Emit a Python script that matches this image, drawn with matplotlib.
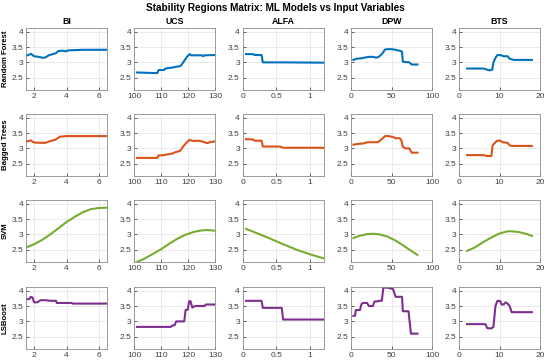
"""Stability regions matrix: partial-dependence style curves per model and input."""

import matplotlib

matplotlib.use("Agg")
import matplotlib.pyplot as plt

plt.rcParams["font.family"] = ["Liberation Sans", "DejaVu Sans"]

TITLE = "Stability Regions Matrix: ML Models vs Input Variables"
VARIABLES = ["BI", "UCS", "ALFA", "DPW", "BTS"]
MODELS = ["Random Forest", "Bagged Trees", "SVM", "LSBoost"]
MODEL_COLORS = ["#0072BD", "#D95319", "#77AC30", "#7E2F8E"]

XLIMS = [(1.5, 6.5), (100, 130), (0, 1.2), (0, 100), (0, 20)]
XTICKS = [[2, 4, 6], [100, 110, 120, 130], [0, 0.5, 1], [0, 50, 100], [0, 10, 20]]
XTICKLABELS = [["2", "4", "6"], ["100", "110", "120", "130"], ["0", "0.5", "1"],
               ["0", "50", "100"], ["0", "10", "20"]]
YLIM = (2.1, 4.12)
YTICKS = [2.5, 3, 3.5, 4]
YTICKLABELS = ["2.5", "3", "3.5", "4"]

# Random Forest
rf_bi = ([1.5, 1.65, 1.8, 1.9, 2.0, 2.3, 2.5, 2.7, 2.9, 3.1, 3.35, 3.5, 3.75, 3.95, 4.1, 4.5, 5.0, 6.5],
         [3.22, 3.24, 3.28, 3.24, 3.2, 3.18, 3.15, 3.16, 3.23, 3.26, 3.3, 3.37, 3.38, 3.36, 3.39, 3.4, 3.41, 3.41])
rf_ucs = ([101, 105, 108.5, 109, 111, 111.5, 114, 117, 117.5, 118.5, 119.5, 120.5, 121, 125, 125.5, 126, 130],
          [2.67, 2.66, 2.65, 2.75, 2.75, 2.8, 2.83, 2.88, 2.92, 3.05, 3.18, 3.27, 3.23, 3.23, 3.2, 3.23, 3.24])
rf_alfa = ([0.05, 0.15, 0.18, 0.28, 0.3, 0.6, 1.2],
           [3.27, 3.27, 3.24, 3.24, 3.0, 3.0, 2.99])
rf_dpw = ([3, 7, 12, 18, 22, 27, 30, 33, 36, 39, 42, 45, 50, 55, 60, 63, 64, 68, 72, 75, 78, 82],
          [3.08, 3.12, 3.13, 3.16, 3.18, 3.18, 3.16, 3.16, 3.22, 3.3, 3.42, 3.43, 3.43, 3.41, 3.38, 3.35,
           3.02, 3.01, 3.0, 2.93, 2.93, 2.93])
rf_bts = ([2, 6, 7, 7.5, 8.2, 8.5, 9, 9.5, 10.5, 11, 12, 12.5, 13.5, 18],
          [2.8, 2.8, 2.76, 2.74, 2.76, 3.0, 3.15, 3.24, 3.23, 3.2, 3.2, 3.12, 3.08, 3.08])

# Bagged Trees
bt_bi = ([1.5, 1.8, 1.9, 2.0, 2.5, 2.7, 2.9, 3.1, 3.3, 3.45, 3.6, 4.0, 6.5],
         [3.22, 3.26, 3.22, 3.19, 3.18, 3.18, 3.22, 3.25, 3.28, 3.33, 3.38, 3.4, 3.4])
bt_ucs = ([101, 108.5, 109, 111, 112, 114, 115, 117, 118, 119.5, 120.5, 121, 122, 124, 126, 127, 128, 130],
          [2.69, 2.69, 2.77, 2.78, 2.8, 2.83, 2.87, 2.92, 3.05, 3.2, 3.28, 3.26, 3.24, 3.25, 3.2, 3.17,
           3.2, 3.23])
bt_alfa = ([0.05, 0.15, 0.18, 0.28, 0.3, 0.55, 0.6, 1.2],
           [3.3, 3.29, 3.25, 3.25, 3.06, 3.06, 3.02, 3.02])
bt_dpw = ([3, 10, 15, 20, 30, 33, 38, 42, 46, 52, 55, 60, 62, 64, 67, 72, 73, 75, 82],
          [3.12, 3.15, 3.16, 3.2, 3.2, 3.2, 3.3, 3.4, 3.4, 3.37, 3.33, 3.33, 3.28, 3.05, 3.0, 3.0,
           2.95, 2.86, 2.86])
bt_bts = ([2, 6, 7, 8, 8.3, 9, 9.5, 10.2, 10.8, 12, 12.5, 13, 18],
          [2.78, 2.78, 2.75, 2.75, 3.1, 3.2, 3.25, 3.25, 3.2, 3.18, 3.1, 3.08, 3.08])

# SVM
svm_bi = ([1.5, 2.0, 2.5, 3.0, 3.5, 4.0, 4.5, 5.0, 5.5, 6.0, 6.5],
          [2.57, 2.68, 2.82, 3.0, 3.2, 3.4, 3.57, 3.72, 3.82, 3.86, 3.87])
svm_ucs = ([101, 104, 107, 110, 113, 116, 119, 122, 125, 127, 130],
           [2.1, 2.22, 2.37, 2.52, 2.7, 2.86, 2.99, 3.08, 3.13, 3.14, 3.12])
svm_alfa = ([0.05, 0.2, 0.4, 0.6, 0.8, 1.0, 1.2],
            [3.18, 3.05, 2.87, 2.68, 2.5, 2.35, 2.22])
svm_dpw = ([3, 10, 20, 28, 35, 45, 55, 65, 75, 82],
           [2.88, 2.95, 3.01, 3.02, 3.0, 2.93, 2.8, 2.63, 2.45, 2.33])
svm_bts = ([2, 4, 6, 8, 10, 12, 13, 15, 17, 18],
           [2.46, 2.58, 2.75, 2.9, 3.03, 3.1, 3.1, 3.07, 3.0, 2.95])

# LSBoost
ls_bi = ([1.5, 1.7, 1.8, 1.9, 2.0, 2.2, 2.4, 2.7, 3.0, 3.35, 3.4, 4.3, 4.4, 6.5],
         [3.72, 3.73, 3.8, 3.78, 3.62, 3.62, 3.69, 3.69, 3.67, 3.67, 3.6, 3.6, 3.58, 3.58])
ls_ucs = ([101, 113.5, 114, 115, 115.5, 118.5, 119, 119.8, 120.3, 120.8, 121.5, 122.5, 126, 126.5, 130],
          [2.82, 2.82, 2.86, 2.88, 3.0, 3.0, 3.37, 3.38, 3.65, 3.66, 3.45, 3.5, 3.5, 3.55, 3.55])
ls_alfa = ([0.05, 0.28, 0.3, 0.58, 0.6, 1.2],
           [3.67, 3.67, 3.44, 3.44, 3.06, 3.06])
ls_dpw = ([3, 5, 6, 11, 13, 15, 20, 22, 27, 29, 33, 34, 38, 40, 45, 48, 52, 55, 63, 64, 71, 74, 82],
          [3.18, 3.18, 3.37, 3.37, 3.57, 3.6, 3.6, 3.5, 3.5, 3.65, 3.65, 3.67, 3.67, 4.1, 4.1, 4.08,
           4.05, 3.8, 3.8, 3.33, 3.33, 2.6, 2.6])
ls_bts = ([2, 6.5, 7, 8, 8.5, 9, 9.5, 10.2, 10.5, 11, 11.5, 12, 12.5, 13, 18],
          [2.91, 2.91, 2.78, 2.77, 2.82, 3.5, 3.67, 3.66, 3.55, 3.55, 3.62, 3.58, 3.5, 3.3, 3.3])

CURVES = [
    [rf_bi, rf_ucs, rf_alfa, rf_dpw, rf_bts],
    [bt_bi, bt_ucs, bt_alfa, bt_dpw, bt_bts],
    [svm_bi, svm_ucs, svm_alfa, svm_dpw, svm_bts],
    [ls_bi, ls_ucs, ls_alfa, ls_dpw, ls_bts],
]


def main() -> None:
    fig = plt.figure(figsize=(5.5, 3.64), dpi=100)
    W, H = 550.0, 364.0
    lefts = [26, 134.3, 242.6, 351, 459]
    tops = [28, 114, 200, 287]
    aw, ah = 81, 62

    for i, model in enumerate(MODELS):
        for j, var in enumerate(VARIABLES):
            ax = fig.add_axes([lefts[j] / W, 1 - (tops[i] + ah) / H, aw / W, ah / H])
            x, y = CURVES[i][j]
            ax.plot(x, y, color=MODEL_COLORS[i], lw=1.5)
            ax.set_xlim(*XLIMS[j])
            ax.set_ylim(*YLIM)
            ax.set_xticks(XTICKS[j], XTICKLABELS[j])
            ax.set_yticks(YTICKS, YTICKLABELS)
            ax.grid(True, color="#e6e6e6", lw=0.6)
            ax.set_axisbelow(True)
            ax.tick_params(direction="in", length=2, width=0.5, labelsize=6,
                           colors="#262626", pad=2, labelcolor="#404040")
            for s in ax.spines.values():
                s.set_color("#8c8c8c")
                s.set_linewidth(0.6)
            if i == 0:
                ax.set_title(var, fontsize=6.3, fontweight="bold", pad=3)
            if j == 0:
                ax.set_ylabel(model, fontsize=5.6, fontweight="bold")
                # place label centre about 9 px from the figure's left edge
                ax.yaxis.set_label_coords((9 - lefts[0]) / aw, 0.5)

    fig.text(0.5, 1 - 8 / H, TITLE, ha="center", va="center", fontsize=7.2, fontweight="bold")
    fig.savefig("out.png", dpi=100)
    plt.close(fig)


if __name__ == "__main__":
    main()
